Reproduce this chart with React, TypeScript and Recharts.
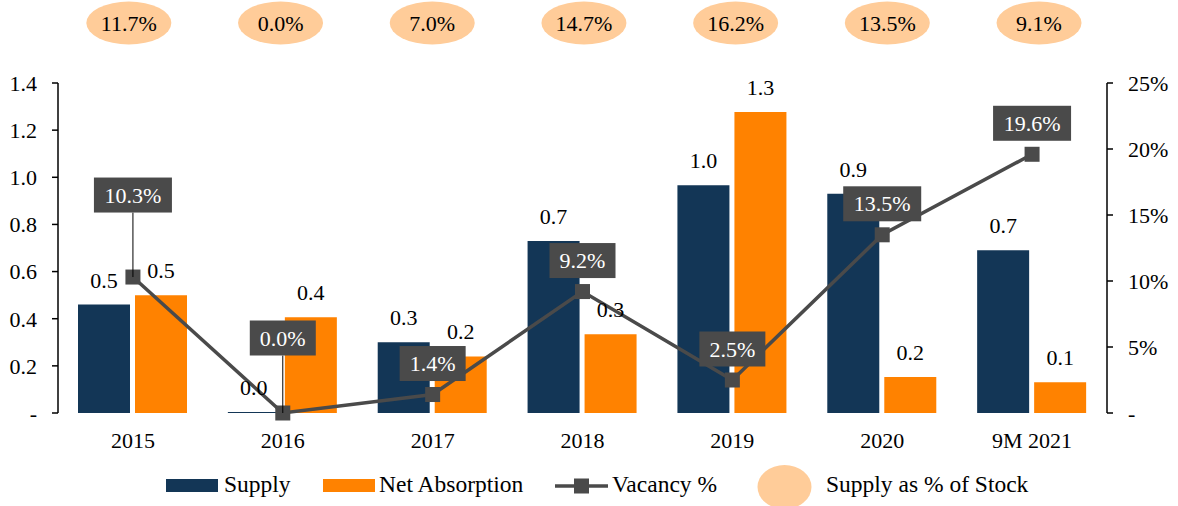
import React from 'react';
import {
  ComposedChart,
  Bar,
  Line,
  Scatter,
  XAxis,
  YAxis,
  LabelList,
} from 'recharts';

const categories = ['2015', '2016', '2017', '2018', '2019', '2020', '9M 2021'];
const supply = [0.46, 0.0, 0.3, 0.73, 0.966, 0.93, 0.69];
const netAbsorption = [0.5, 0.406, 0.24, 0.334, 1.277, 0.153, 0.13];
const vacancy = [10.3, 0.0, 1.4, 9.2, 2.5, 13.5, 19.6];
const stockPct = [11.7, 0.0, 7.0, 14.7, 16.2, 13.5, 9.1];
const leftTicks = [0, 0.2, 0.4, 0.6, 0.8, 1.0, 1.2, 1.4];
const rightTicks = [0, 5, 10, 15, 20, 25];
const boundaryTicks = [-0.5, 0.5, 1.5, 2.5, 3.5, 4.5, 5.5, 6.5];

const data = categories.map((cat, i) => ({
  cat,
  idx: i,
  supply: supply[i],
  net: netAbsorption[i],
  vacancy: vacancy[i],
  stockPct: stockPct[i],
}));

const FONT = "'Liberation Serif', 'Times New Roman', serif";
const NAVY = '#133656';
const ORANGE = '#FF8200';
const GREY = '#4a4a4a';
const PEACH = '#FFCC99';

const fmt1 = (v: number) => Number(v).toFixed(1);

const VacancyLabel = (props: any) => {
  const { x, y, value, index } = props;
  const text = `${Number(value).toFixed(1)}%`;
  const lift = index === 0 ? 82 : index === 1 ? 75 : 31;
  const w = text.length >= 5 ? 78 : 66;
  const h = 35;
  const cy = y - lift;
  return (
    <g>
      {lift > 40 && (
        <line x1={x} y1={cy + h / 2} x2={x} y2={y} stroke="#000" strokeWidth={1} />
      )}
      <rect x={x - w / 2} y={cy - h / 2} width={w} height={h} fill={GREY} />
      <text
        x={x}
        y={cy + 7.5}
        textAnchor="middle"
        fill="#fff"
        fontSize={22}
        fontFamily={FONT}
      >
        {text}
      </text>
    </g>
  );
};

const SquareDot = (props: any) => {
  const { cx, cy } = props;
  if (cx == null || cy == null) return null;
  return <rect x={cx - 7.5} y={cy - 7.5} width={15} height={15} fill={GREY} />;
};

const StockEllipse = (props: any) => {
  const { cx, payload } = props;
  if (cx == null) return null;
  const yTop = 23;
  return (
    <g>
      <ellipse cx={cx} cy={yTop} rx={42.5} ry={21.5} fill={PEACH} />
      <text
        x={cx}
        y={yTop + 8}
        textAnchor="middle"
        fill="#000"
        fontSize={22}
        fontFamily={FONT}
      >
        {`${Number(payload.stockPct).toFixed(1)}%`}
      </text>
    </g>
  );
};

const LegendOverlay = () => (
  <svg
    width={1178}
    height={506}
    style={{ position: 'absolute', left: 0, top: 0, pointerEvents: 'none' }}
  >
    <g fontFamily={FONT} fontSize={23.5} fill="#000">
      <rect x={166} y={479} width={52} height={13} fill={NAVY} />
      <text x={224} y={492}>Supply</text>
      <rect x={323} y={479} width={52} height={13} fill={ORANGE} />
      <text x={379} y={492}>Net Absorption</text>
      <line x1={555} y1={486} x2={608} y2={486} stroke={GREY} strokeWidth={3.5} />
      <rect x={574} y={478.5} width={15} height={15} fill={GREY} />
      <text x={612} y={492}>Vacancy %</text>
      <ellipse cx={784.5} cy={487} rx={27} ry={22} fill={PEACH} />
      <text x={826} y={492}>Supply as % of Stock</text>
    </g>
  </svg>
);

export default function App() {
  return (
    <div style={{ position: 'absolute', left: 0, top: 0, width: 1178, height: 506, background: '#fff' }}>
      <ComposedChart
        width={1178}
        height={506}
        data={data}
        margin={{ top: 83, right: 0, bottom: 0, left: 0 }}
        barGap={5}
        barSize={52}
      >
        <XAxis
          xAxisId="grid"
          type="number"
          dataKey="idx"
          domain={[-0.5, 6.5]}
          ticks={boundaryTicks}
          tick={false}
          tickSize={6}
          height={0}
          axisLine={{ stroke: '#000', strokeWidth: 1.5 }}
          tickLine={{ stroke: '#000', strokeWidth: 1.5 }}
        />
        <XAxis
          xAxisId="main"
          dataKey="cat"
          type="category"
          height={93}
          axisLine={false}
          tickLine={false}
          tickSize={0}
          tickMargin={19}
          interval={0}
          tick={{ fill: '#000', fontSize: 22, fontFamily: FONT }}
        />
        <XAxis
          xAxisId="top"
          type="number"
          dataKey="idx"
          domain={[-0.467, 6.448]}
          hide
        />
        <YAxis
          yAxisId="left"
          orientation="left"
          width={58}
          domain={[0, 1.4]}
          ticks={leftTicks}
          interval={0}
          tickSize={6}
          tickMargin={15}
          axisLine={{ stroke: '#000', strokeWidth: 1.5 }}
          tickLine={{ stroke: '#000', strokeWidth: 1.5 }}
          tick={{ fill: '#000', fontSize: 22, fontFamily: FONT }}
          tickFormatter={(v: number) => (v === 0 ? '-' : fmt1(v))}
        />
        <YAxis
          yAxisId="right"
          orientation="right"
          width={71}
          domain={[0, 25]}
          ticks={rightTicks}
          interval={0}
          tickSize={6}
          tickMargin={15}
          axisLine={{ stroke: '#000', strokeWidth: 1.5 }}
          tickLine={{ stroke: '#000', strokeWidth: 1.5 }}
          tick={{ fill: '#000', fontSize: 22, fontFamily: FONT, textAnchor: 'start' }}
          tickFormatter={(v: number) => (v === 0 ? '-' : `${v}%`)}
        />
        <Bar
          xAxisId="main"
          yAxisId="left"
          dataKey="supply"
          name="Supply"
          fill={NAVY}
          minPointSize={1}
          isAnimationActive={false}
        >
          <LabelList
            dataKey="supply"
            position="top"
            offset={17}
            formatter={(v: any) => fmt1(v)}
            style={{ fill: '#000', fontSize: 22, fontFamily: FONT }}
          />
        </Bar>
        <Bar
          xAxisId="main"
          yAxisId="left"
          dataKey="net"
          name="Net Absorption"
          fill={ORANGE}
          isAnimationActive={false}
        >
          <LabelList
            dataKey="net"
            position="top"
            offset={17}
            formatter={(v: any) => fmt1(v)}
            style={{ fill: '#000', fontSize: 22, fontFamily: FONT }}
          />
        </Bar>
        <Line
          xAxisId="main"
          yAxisId="right"
          dataKey="vacancy"
          name="Vacancy %"
          stroke={GREY}
          strokeWidth={3.5}
          dot={<SquareDot />}
          activeDot={false}
          isAnimationActive={false}
        >
          <LabelList dataKey="vacancy" content={<VacancyLabel />} />
        </Line>
        <Scatter
          xAxisId="top"
          yAxisId="right"
          dataKey="stockPct"
          name="Supply as % of Stock"
          shape={(p: any) => <StockEllipse {...p} />}
          isAnimationActive={false}
        />
      </ComposedChart>
      <LegendOverlay />
    </div>
  );
}
